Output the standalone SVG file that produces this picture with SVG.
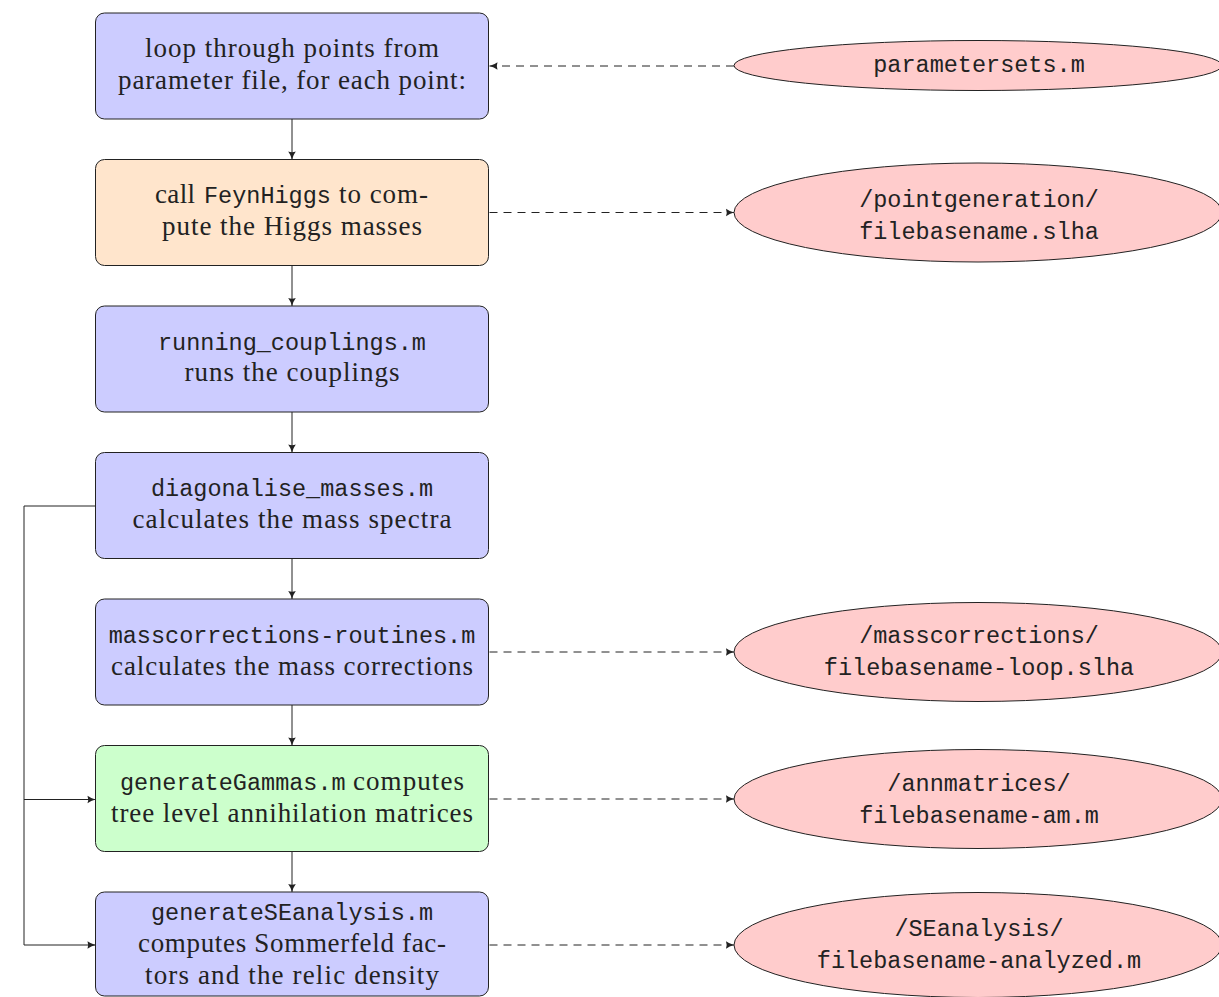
<svg xmlns="http://www.w3.org/2000/svg" width="1219" height="997" viewBox="0 0 1219 997">
<style>
.box{stroke:#222;stroke-width:1}
.blue{fill:#ccccff}
.orange{fill:#ffe5cc}
.green{fill:#ccffcc}
.ell{fill:#ffcccc;stroke:#222;stroke-width:1}
.s{font-family:"Liberation Serif","Times New Roman",serif;font-size:27px;fill:#222}
.m{font-family:"Liberation Mono","Courier New",monospace;font-size:23.5px;fill:#222}
.c{text-anchor:middle}
.ln{fill:none;stroke:#222;stroke-width:1}
.d{stroke-dasharray:8 6}
</style>
<defs>
<marker id="ah" markerUnits="userSpaceOnUse" markerWidth="12" markerHeight="12" refX="9" refY="6" orient="auto">
<path d="M1,2.2 Q4.5,4.8 9,6 Q4.5,7.2 1,9.8 Q2.4,6 1,2.2 Z" fill="#222"/>
</marker>
</defs>
<rect width="1219" height="997" fill="#fff"/>

<g id="connectors">
<line class="ln" x1="292" y1="119" x2="292" y2="159.5" marker-end="url(#ah)"/>
<line class="ln" x1="292" y1="265.5" x2="292" y2="306" marker-end="url(#ah)"/>
<line class="ln" x1="292" y1="412" x2="292" y2="452.5" marker-end="url(#ah)"/>
<line class="ln" x1="292" y1="558.5" x2="292" y2="599" marker-end="url(#ah)"/>
<line class="ln" x1="292" y1="705" x2="292" y2="745.5" marker-end="url(#ah)"/>
<line class="ln" x1="292" y1="851.5" x2="292" y2="892" marker-end="url(#ah)"/>
<line class="ln d" x1="734" y1="66" x2="489.5" y2="66" marker-end="url(#ah)"/>
<line class="ln d" x1="489.5" y1="212.5" x2="734" y2="212.5" marker-end="url(#ah)"/>
<line class="ln d" x1="489.5" y1="652" x2="734" y2="652" marker-end="url(#ah)"/>
<line class="ln d" x1="489.5" y1="799" x2="734" y2="799" marker-end="url(#ah)"/>
<line class="ln d" x1="489.5" y1="945" x2="734" y2="945" marker-end="url(#ah)"/>
<polyline class="ln" points="95.5,506 24,506 24,945 95.5,945" marker-end="url(#ah)"/>
<line class="ln" x1="24" y1="799.5" x2="95.5" y2="799.5" marker-end="url(#ah)"/>
</g>

<g id="n1">
<rect class="box blue" x="95.5" y="13" width="393" height="106" rx="9"/>
<text class="s c" x="292" y="57" textLength="294">loop through points from</text>
<text class="s c" x="292" y="89" textLength="348">parameter file, for each point:</text>
</g>
<g id="n2">
<rect class="box orange" x="95.5" y="159.5" width="393" height="106" rx="9"/>
<text class="s" x="155" y="203" textLength="40">call</text>
<text class="m" x="204" y="203">FeynHiggs</text>
<text class="s" x="339" y="203" textLength="89">to com-</text>
<text class="s c" x="292" y="235" textLength="260">pute the Higgs masses</text>
</g>
<g id="n3">
<rect class="box blue" x="95.5" y="306" width="393" height="106" rx="9"/>
<text class="m c" x="292" y="350">running_couplings.m</text>
<text class="s c" x="292" y="381" textLength="215">runs the couplings</text>
</g>
<g id="n4">
<rect class="box blue" x="95.5" y="452.5" width="393" height="106" rx="9"/>
<text class="m c" x="292" y="496">diagonalise_masses.m</text>
<text class="s c" x="292" y="528" textLength="319">calculates the mass spectra</text>
</g>
<g id="n5">
<rect class="box blue" x="95.5" y="599" width="393" height="106" rx="9"/>
<text class="m c" x="292" y="643">masscorrections-routines.m</text>
<text class="s c" x="292" y="675" textLength="362">calculates the mass corrections</text>
</g>
<g id="n6">
<rect class="box green" x="95.5" y="745.5" width="393" height="106" rx="9"/>
<text class="m" x="120" y="790">generateGammas.m</text>
<text class="s" x="353" y="790" textLength="111">computes</text>
<text class="s c" x="292" y="822" textLength="362">tree level annihilation matrices</text>
</g>
<g id="n7">
<rect class="box blue" x="95.5" y="892" width="393" height="104" rx="9"/>
<text class="m c" x="292" y="920">generateSEanalysis.m</text>
<text class="s c" x="292" y="952" textLength="308">computes Sommerfeld fac-</text>
<text class="s c" x="292" y="984" textLength="294">tors and the relic density</text>
</g>

<g id="e1">
<ellipse class="ell" cx="978" cy="65.5" rx="244" ry="25"/>
<text class="m c" x="979" y="72">parametersets.m</text>
</g>
<g id="e2">
<ellipse class="ell" cx="978" cy="212.5" rx="244" ry="49.5"/>
<text class="m c" x="979" y="207">/pointgeneration/</text>
<text class="m c" x="979" y="239">filebasename.slha</text>
</g>
<g id="e3">
<ellipse class="ell" cx="978" cy="652" rx="244" ry="49.5"/>
<text class="m c" x="979" y="643">/masscorrections/</text>
<text class="m c" x="979" y="675">filebasename-loop.slha</text>
</g>
<g id="e4">
<ellipse class="ell" cx="978" cy="799" rx="244" ry="49.5"/>
<text class="m c" x="979" y="791">/annmatrices/</text>
<text class="m c" x="979" y="823">filebasename-am.m</text>
</g>
<g id="e5">
<ellipse class="ell" cx="978" cy="945" rx="244" ry="52.5"/>
<text class="m c" x="979" y="936">/SEanalysis/</text>
<text class="m c" x="979" y="968">filebasename-analyzed.m</text>
</g>
</svg>
